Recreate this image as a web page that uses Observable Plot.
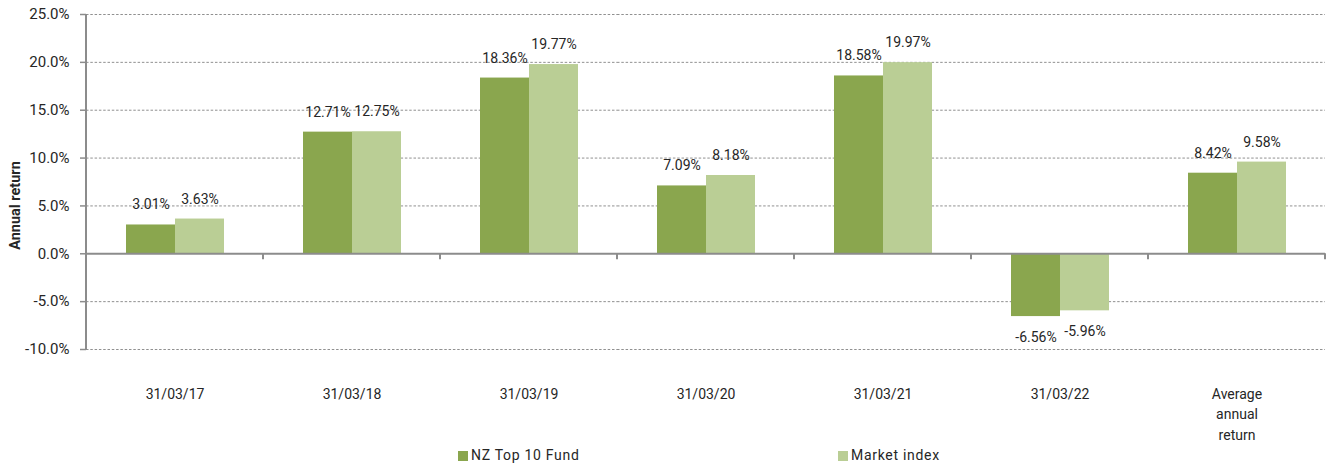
<!DOCTYPE html>
<html>
<head>
<meta charset="utf-8">
<script src="https://cdn.jsdelivr.net/npm/d3@7"></script>
<script src="https://cdn.jsdelivr.net/npm/@observablehq/plot@0.6"></script>
<style>
  html, body { margin: 0; padding: 0; background: #fff; }
  #chart { width: 1327px; }
  .legend { position: relative; height: 23px; width: 1327px; font-family: Roboto, sans-serif; font-size: 14px; letter-spacing: 0.7px; color: #262626; }
  .legend .item { position: absolute; top: 0; line-height: 23px; white-space: nowrap; }
  .legend .sw { display: inline-block; width: 10px; height: 10px; margin-right: 3px; vertical-align: -1px; }
</style>
</head>
<body>
<div id="chart"></div>
<script>
const categories = ["31/03/17", "31/03/18", "31/03/19", "31/03/20", "31/03/21", "31/03/22", "Average\nannual\nreturn"];
const seriesNames = ["NZ Top 10 Fund", "Market index"];
const fundValues = [3.01, 12.71, 18.36, 7.09, 18.58, -6.56, 8.42];
const marketValues = [3.63, 12.75, 19.77, 8.18, 19.97, -5.96, 9.58];
const yTicks = [-10, -5, 0, 5, 10, 15, 20, 25];
const seriesColors = ["#8aa64e", "#bace95"];

const data = categories.flatMap((c, i) => [
  {category: c, series: seriesNames[0], value: fundValues[i]},
  {category: c, series: seriesNames[1], value: marketValues[i]}
]);
const fmt = d => d.value.toFixed(2) + "%";

const chart = Plot.plot({
  width: 1327,
  height: 444,
  marginLeft: 84,
  marginRight: 0,
  marginTop: 14,
  marginBottom: 95,
  style: {fontFamily: "Roboto, sans-serif", fontSize: "14px", color: "#262626", background: "#fff"},
  fx: {domain: categories, paddingInner: 0, paddingOuter: 0, label: null},
  x: {domain: seriesNames, paddingInner: 0, paddingOuter: 0.776, axis: null},
  y: {domain: [-10, 25], label: null},
  color: {domain: seriesNames, range: seriesColors},
  marks: [
    Plot.ruleY(yTicks.filter(d => d !== 0), {stroke: "#909090", strokeDasharray: "2.5,1.8", strokeWidth: 1}),
    Plot.barY(data, {fx: "category", x: "series", y: "value", fill: "series"}),
    Plot.ruleY([0], {stroke: "#8c8c8c", strokeWidth: 2}),
    Plot.text(data.filter(d => d.value >= 0), {fx: "category", x: "series", y: "value", text: fmt, dy: -20, fill: "#262626", fontSize: 14, letterSpacing: 0.2}),
    Plot.text(data.filter(d => d.value < 0), {fx: "category", x: "series", y: "value", text: fmt, dy: 21, fill: "#262626", fontSize: 14, letterSpacing: 0.2}),
    Plot.axisY({ticks: yTicks, tickFormat: d => d.toFixed(1) + "%", tickSize: 6, tickPadding: 11, stroke: "#8c8c8c", strokeWidth: 1.5, fill: "#262626", label: null, fontSize: 15, letterSpacing: 0.5}),
    Plot.axisFx({anchor: "bottom", tickSize: 0, tickPadding: 35, lineHeight: 1.45, label: null, fill: "#262626", fontSize: 14, letterSpacing: 0.8})
  ]
});

document.getElementById("chart").appendChild(chart);

// Axis line, category separator ticks and y-axis title from the library's scales
const fxS = chart.scale("fx");
const yS = chart.scale("y");
const svg = d3.select(chart);
const g = svg.append("g").attr("stroke", "#8c8c8c").attr("stroke-width", 2);
const x0 = fxS.apply(categories[0]);
g.append("line").attr("x1", x0).attr("x2", x0).attr("y1", yS.apply(25)).attr("y2", yS.apply(-10));
categories.forEach(c => {
  const xb = fxS.apply(c) + fxS.bandwidth;
  g.append("line").attr("x1", xb).attr("x2", xb).attr("y1", yS.apply(0)).attr("y2", yS.apply(0) + 6);
});
svg.append("text")
  .attr("transform", `translate(15,${(yS.apply(25) + yS.apply(-10)) / 2 + 24}) rotate(-90)`)
  .attr("text-anchor", "middle")
  .attr("dominant-baseline", "central")
  .attr("font-weight", "bold")
  .attr("font-size", 14.5)
  .attr("fill", "#262626")
  .text("Annual return");

// Legend below the SVG
const legend = d3.select("body").append("div").attr("class", "legend");
const legendLeft = [458, 838];
seriesNames.forEach((s, i) => {
  const it = legend.append("div").attr("class", "item").style("left", legendLeft[i] + "px");
  it.append("span").attr("class", "sw").style("background", seriesColors[i]);
  it.append("span").text(s);
});
</script>
</body>
</html>
